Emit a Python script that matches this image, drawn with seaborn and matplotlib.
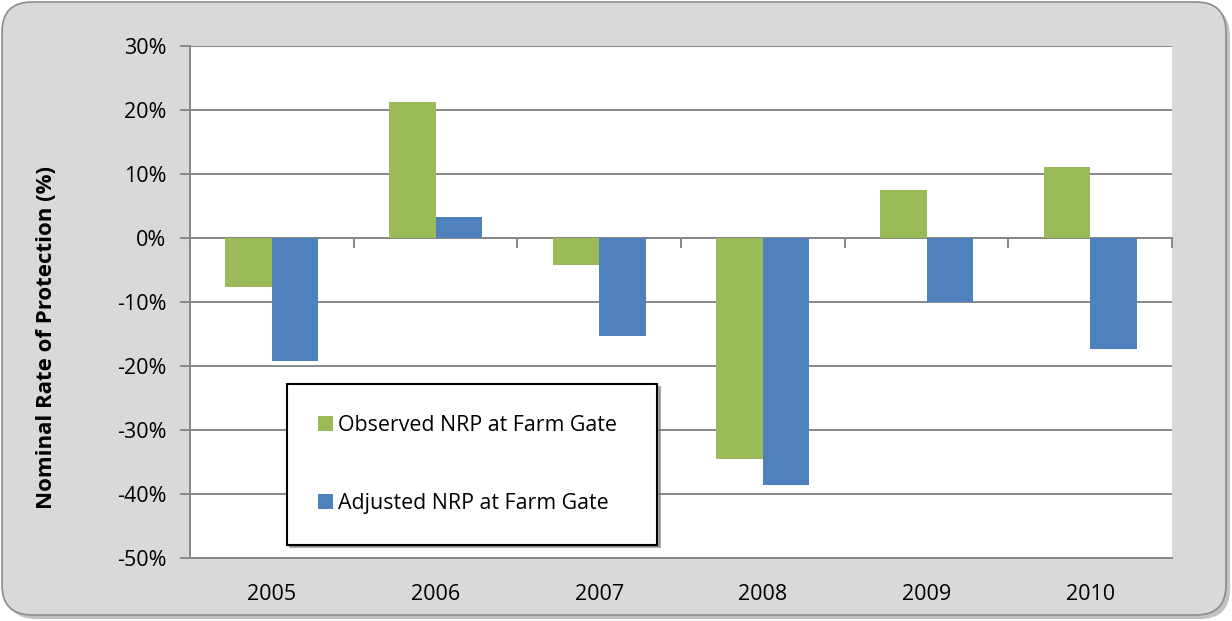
import matplotlib
matplotlib.use("Agg")
import matplotlib.pyplot as plt
import seaborn as sns
import pandas as pd
from matplotlib.patches import FancyBboxPatch
from matplotlib.ticker import FuncFormatter, MultipleLocator, FixedLocator

years = ["2005", "2006", "2007", "2008", "2009", "2010"]
observed_nrp = [-7.7, 21.2, -4.2, -34.6, 7.5, 11.1]
adjusted_nrp = [-19.2, 3.2, -15.4, -38.6, -10.1, -17.4]
series_names = ["Observed NRP at Farm Gate", "Adjusted NRP at Farm Gate"]
series_colors = ["#9BBB59", "#4F81BD"]

df = pd.DataFrame({
    "year": years * 2,
    "value": observed_nrp + adjusted_nrp,
    "series": [series_names[0]] * len(years) + [series_names[1]] * len(years),
})

sns.set_theme(style="white")
plt.rcParams["font.family"] = ["Open Sans", "DejaVu Sans"]
plt.rcParams["text.color"] = "black"

W, H = 1232, 621
fig = plt.figure(figsize=(W / 100, H / 100), dpi=100)
fig.patch.set_facecolor("white")

# rounded grey chart background with a soft shadow, drawn in pixel units
bg = fig.add_axes([0, 0, 1, 1], zorder=0)
bg.set_xlim(0, W)
bg.set_ylim(H, 0)
bg.axis("off")
bg.add_patch(FancyBboxPatch((6, 6), W - 8, H - 8,
                            boxstyle="round,pad=0,rounding_size=30",
                            facecolor="#9a9a9a", edgecolor="none", alpha=0.6))
bg.add_patch(FancyBboxPatch((2, 2), W - 8, H - 8,
                            boxstyle="round,pad=0,rounding_size=30",
                            facecolor="#D9D9D9", edgecolor="#8c8c8c", linewidth=1.2))

ax = fig.add_axes([190 / W, 1 - 558 / H, (1172 - 190) / W, (558 - 45.5) / H], zorder=1)
ax.set_facecolor("white")

sns.barplot(data=df, x="year", y="value", hue="series", order=years,
            hue_order=series_names, palette=series_colors, width=0.57,
            saturation=1, gap=0, edgecolor="none", linewidth=0, ax=ax,
            zorder=3)

ax.set_xlim(-0.5, len(years) - 0.5)
ax.set_ylim(-50, 30)
ax.yaxis.set_major_locator(MultipleLocator(10))
ax.yaxis.set_major_formatter(FuncFormatter(lambda v, p: f"{v:.0f}%"))

grid_color = "#878787"
ax.yaxis.grid(True, color=grid_color, linewidth=1.4, zorder=0)
ax.set_axisbelow(True)

ax.spines["right"].set_visible(False)
ax.spines["left"].set_color(grid_color)
ax.spines["left"].set_linewidth(1.4)
ax.spines["bottom"].set_color(grid_color)
ax.spines["bottom"].set_linewidth(1.4)
# category axis crosses the value axis at zero
ax.spines["top"].set_position(("data", 0))
ax.spines["top"].set_color(grid_color)
ax.spines["top"].set_linewidth(1.4)
ax.spines["top"].set_zorder(2)

ax.xaxis.set_minor_locator(FixedLocator([i - 0.5 for i in range(len(years) + 1)]))
ax.tick_params(axis="x", which="minor", top=True, bottom=False, direction="in",
               length=7, width=1.4, color=grid_color)
ax.tick_params(axis="x", which="major", bottom=True, top=False, length=0,
               pad=19, labelsize=15.5, labelcolor="black")
ax.tick_params(axis="y", which="major", left=True, direction="out", length=7,
               width=1.4, color=grid_color, pad=10, labelsize=15.5,
               labelcolor="black")

ax.set_xlabel("")
ax.set_ylabel("Nominal Rate of Protection (%)", fontsize=16, fontweight="bold",
              color="black")
ax.yaxis.set_label_coords(-0.135, 0.43)

handles, labels = ax.get_legend_handles_labels()
leg = ax.legend(handles, labels, loc="upper left", mode="expand",
                bbox_to_anchor=(287 / W, 1 - 543 / H, 370 / W, 159 / H),
                bbox_transform=fig.transFigure,
                frameon=True, fancybox=False, shadow={"color": "#7a7a7a", "alpha": 0.6},
                fontsize=15.4, handlelength=0.7, handleheight=0.7,
                handletextpad=0.25, labelspacing=2.65, borderpad=1.45,
                borderaxespad=0, labelcolor="black")
leg.get_frame().set_edgecolor("black")
leg.get_frame().set_linewidth(1.5)
leg.set_zorder(5)

fig.savefig("out.png", dpi=100)
